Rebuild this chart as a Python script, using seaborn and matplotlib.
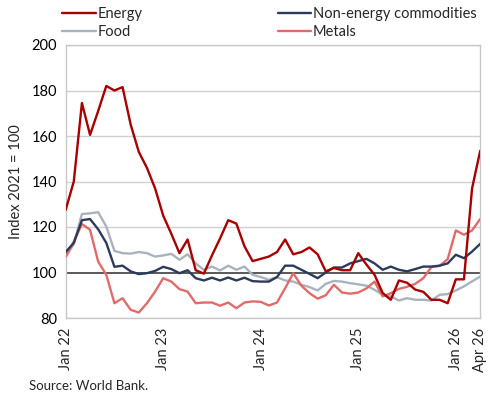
import numpy as np
import pandas as pd
import matplotlib
matplotlib.use("Agg")
import matplotlib.pyplot as plt
import seaborn as sns

months = pd.date_range("2022-01-01", "2026-04-01", freq="MS")

energy = [127.5, 140, 174.5, 160.5, 171, 182, 180, 181.5, 165, 153, 146, 137,
          125, 117, 108.5, 114.5, 101, 99.5, 107.5, 115, 123, 121.5, 111.5, 105,
          106, 107, 109, 114.5, 108, 109, 111, 108, 100.5, 102, 101, 101,
          108.5, 103.5, 99, 91, 88, 96.5, 95.5, 92.5, 91.5, 88, 88, 86.5,
          97, 97, 137, 153.5]
non_energy = [109, 113, 123, 123.5, 119, 113, 102.5, 103, 100.5, 99.3, 99.7, 100.7,
              102.5, 101.5, 99.7, 101, 97.5, 96.5, 97.7, 96.5, 97.8, 96.5, 97.7, 96.2,
              96, 96, 98, 103, 103, 101.2, 99.4, 97.5, 100, 102.2, 102.2, 104,
              105, 106, 104, 101.2, 102.6, 101.2, 100.5, 101.5, 102.6, 102.6, 103, 104,
              107.8, 106.3, 109.2, 112.6]
food = [106.7, 112.5, 125.7, 126, 126.5, 120.2, 109.5, 108.5, 108.3, 109, 108.5, 107,
        107.5, 108.2, 105.6, 108, 104, 101.2, 102.6, 100.9, 103, 101.2, 102.6, 99,
        98, 96.8, 97.9, 96.5, 96, 94.6, 93.6, 92.1, 95, 96.3, 96, 95.3,
        94.8, 94.2, 92.4, 90.2, 89.5, 87.7, 88.7, 88, 88, 87.7, 90.2, 90.5,
        92.1, 93.9, 96.1, 98.2]
metals = [107, 113.6, 121.3, 118.8, 104.8, 99, 86.5, 88.7, 83.6, 82.4, 86.5, 91.6,
          97.5, 96, 92.7, 91.6, 86.5, 86.8, 86.8, 85.4, 86.8, 84.3, 86.8, 87.3,
          87.1, 85.5, 86.8, 93.1, 99.7, 94.2, 90.9, 88.5, 90, 94.6, 91.2, 90.7,
          91.2, 93, 96, 89.5, 90.9, 92.8, 93.7, 95, 97.5, 102.4, 102.9, 105.9,
          118.5, 116.6, 118.5, 123.5]

series_names = ["Energy", "Non-energy commodities", "Food", "Metals"]
colors = {"Energy": "#A80000", "Non-energy commodities": "#2C3B5C",
          "Food": "#A9B3BD", "Metals": "#E06B6B"}
tick_months = ["2022-01-01", "2023-01-01", "2024-01-01", "2025-01-01", "2026-01-01", "2026-04-01"]
tick_labels = ["Jan 22", "Jan 23", "Jan 24", "Jan 25", "Jan 26", "Apr 26"]

df = pd.DataFrame({"month": list(months) * 4,
                   "idx": list(range(len(months))) * 4,
                   "series": sum([[n] * len(months) for n in series_names], []),
                   "value": energy + non_energy + food + metals})

sns.set_theme(style="white")
plt.rcParams["font.family"] = ["Lato", "DejaVu Sans"]

fig = plt.figure(figsize=(4.9, 4.0), dpi=100)
ax = fig.add_axes([0.134, 0.205, 0.846, 0.6825])

for r in [80, 120, 140, 160, 180, 200]:
    ax.axhline(r, color="#D0D0D0", lw=1.0, zorder=0)
ax.axhline(100, color="#595959", lw=1.4, zorder=1)

draw_order = ["Food", "Metals", "Non-energy commodities", "Energy"]
for name in draw_order:
    sub = df[df.series == name]
    sns.lineplot(data=sub, x="idx", y="value", color=colors[name], lw=1.7,
                 ax=ax, legend=False, zorder=3)

ax.set_xlim(0, len(months) - 1)
ax.set_ylim(80, 200)
ax.set_yticks([80, 100, 120, 140, 160, 180, 200])
ax.tick_params(axis="y", labelsize=10.5, length=0, pad=6, colors="#000000")
pos = [list(months).index(pd.Timestamp(t)) for t in tick_months]
ax.set_xticks(pos)
ax.set_xticklabels(tick_labels, rotation=90, fontsize=10.5)
ax.tick_params(axis="x", length=4, width=0.8, color="#BFBFBF", pad=3)
ax.set_xlabel("")
ax.set_ylabel("Index 2021 = 100", fontsize=10.5, labelpad=6)
for s in ax.spines.values():
    s.set_color("#C8C8C8")
    s.set_linewidth(1.0)

handles = [plt.Line2D([], [], color=colors[n], lw=1.7) for n in ["Energy", "Food", "Non-energy commodities", "Metals"]]
labels = ["Energy", "Food", "Non-energy commodities", "Metals"]
fig.legend(handles, labels, ncol=2, loc="upper left", bbox_to_anchor=(0.115, 0.998),
           frameon=False, fontsize=10.5, handlelength=2.3, handletextpad=0.1,
           columnspacing=9.3, labelspacing=0.3, borderaxespad=0)

fig.text(0.06, 0.025, "Source: World Bank.", fontsize=9.5)

fig.savefig("out.png", dpi=100)
